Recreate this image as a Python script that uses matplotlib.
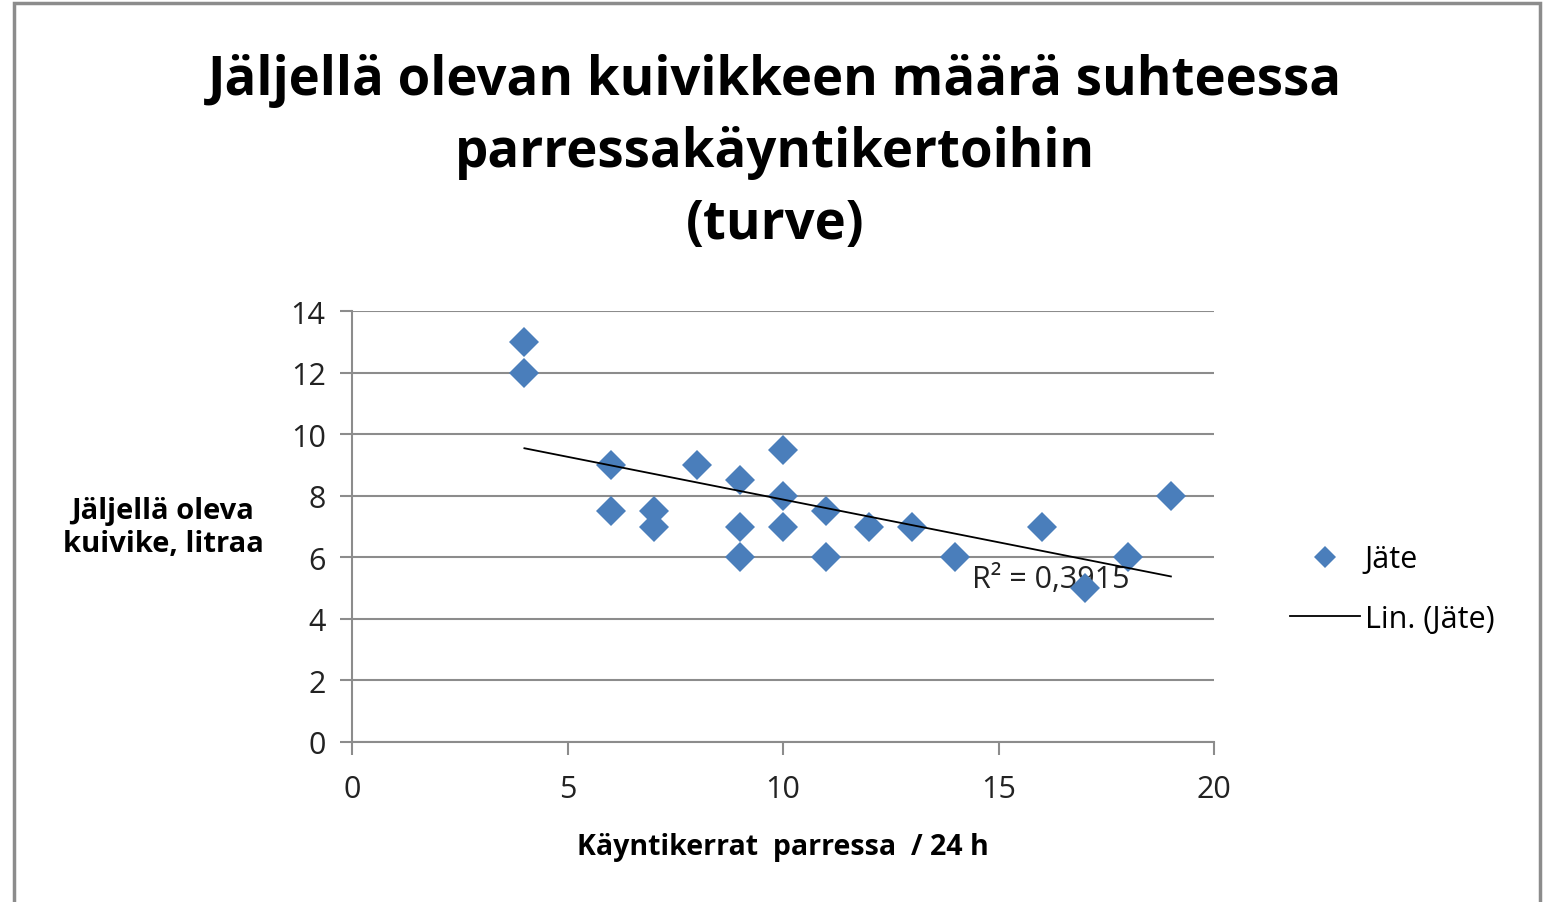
#!/usr/bin/env python3
# scatter of remaining bedding vs. stall visits, with linear trendline
import numpy as np
import matplotlib.pyplot as plt
from matplotlib.patches import Rectangle

# data
kaynnit = [4, 4, 6, 6, 7, 7, 8, 9, 9, 9, 10, 10, 10, 11, 11, 12, 13, 14, 16, 17, 18, 19]
jate = [13, 12, 9, 7.5, 7.5, 7, 9, 8.5, 7, 6, 9.5, 8, 7, 7.5, 6, 7, 7, 6, 7, 5, 6, 8]
x_ticks = [0, 5, 10, 15, 20]
y_ticks = [0, 2, 4, 6, 8, 10, 12, 14]

title = "Jäljellä olevan kuivikkeen määrä suhteessa\nparressakäyntikertoihin\n(turve)"
xlabel = "Käyntikerrat  parressa  / 24 h"
ylabel = "Jäljellä oleva\nkuivike, litraa"

blue = "#4a7ebb"
grid_col = "#8c8c8c"
plt.rcParams['font.family'] = ['Open Sans', 'DejaVu Sans']

fig = plt.figure(figsize=(15.5, 9.03), dpi=100)
fig.patches.append(Rectangle((14 / 1550, -0.05), 1526 / 1550, 1.05 - 4 / 903,
                             transform=fig.transFigure, fill=False,
                             edgecolor="#8c8c8c", linewidth=2.5))

ax = fig.add_axes([352 / 1550, 160 / 903, 862 / 1550, 431 / 903])

x = np.array(kaynnit, dtype=float)
y = np.array(jate, dtype=float)
ax.plot(x, y, linestyle="none", marker="D", markersize=15, color=blue,
        markeredgewidth=0, label="Jäte", zorder=3)

# linear trend
k, b = np.polyfit(x, y, 1)
xs = np.array([x.min(), x.max()])
ax.plot(xs, k * xs + b, color="black", linewidth=1.3, label="Lin. (Jäte)", zorder=4)
r2 = np.corrcoef(x, y)[0, 1] ** 2
ax.text(14.39, 5.29, ("R² = %.4f" % r2).replace(".", ","), fontsize=22,
        va="center", ha="left", color="#222222", zorder=2)

ax.set_xlim(0, 20)
ax.set_ylim(0, 14)
ax.set_xticks(x_ticks)
ax.set_yticks(y_ticks)
ax.yaxis.grid(True, color=grid_col, linewidth=1.5)
ax.set_axisbelow(True)
for s in ["top", "right"]:
    ax.spines[s].set_visible(False)
for s in ["left", "bottom"]:
    ax.spines[s].set_color(grid_col)
    ax.spines[s].set_linewidth(1.5)
ax.tick_params(axis="both", colors=grid_col, width=1.5, length=9, labelsize=22,
               labelcolor="#222222")
ax.tick_params(axis="x", pad=14)
ax.tick_params(axis="y", pad=10)

ax.set_xlabel(xlabel, fontsize=20.5, fontweight="bold", labelpad=20)
fig.text(163 / 1550, 1 - 528 / 903, ylabel, fontsize=21, fontweight="bold",
         ha="center", va="center", linespacing=1.2)
fig.text(0.5, 1 - 153 / 903, title, fontsize=38, fontweight="bold",
         ha="center", va="center", linespacing=1.43)

fig.legend(loc="center left", bbox_to_anchor=(1290 / 1550, 1 - 590 / 903), frameon=False,
           fontsize=22, markerscale=0.75, handlelength=2.3, handletextpad=0.15,
           labelspacing=0.95, borderpad=0, borderaxespad=0)

fig.savefig("out.png", dpi=100)
